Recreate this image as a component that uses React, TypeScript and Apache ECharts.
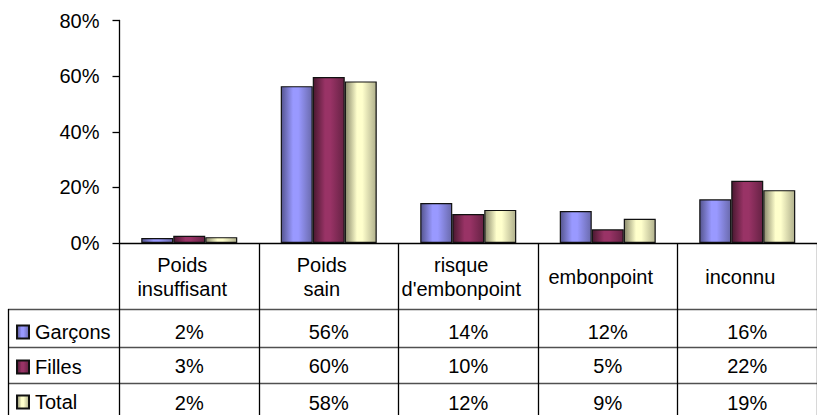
import React, { useEffect, useRef } from "react";
import * as echarts from "echarts";

const categories = ["Poids\ninsuffisant", "Poids\nsain", "risque\nd'embonpoint", "embonpoint", "inconnu"];
const seriesNames = ["Garçons", "Filles", "Total"];
const garcons = [1.8, 56.4, 14.4, 11.5, 15.7];
const filles = [2.6, 59.7, 10.4, 4.9, 22.4];
const total = [2.1, 58.1, 11.9, 8.7, 19.0];
const yTicks = [0, 20, 40, 60, 80];

const FONT = "'Liberation Sans', Arial, sans-serif";

function grad(edgeL: string, base: string, edgeR: string) {
  return {
    type: "linear",
    x: 0,
    y: 0,
    x2: 1,
    y2: 0,
    colorStops: [
      { offset: 0, color: edgeL },
      { offset: 0.38, color: base },
      { offset: 0.55, color: base },
      { offset: 1, color: edgeR },
    ],
  };
}

const fills = [
  grad("#55558f", "#9999ff", "#6a6aad"),
  grad("#4a1830", "#993366", "#662244"),
  grad("#8a8a6c", "#ffffcc", "#b0b08c"),
];

export default function App() {
  const ref = useRef<HTMLDivElement>(null);
  useEffect(() => {
    const chart = echarts.init(ref.current!, undefined, { renderer: "svg" });
    const all = [garcons, filles, total];
    const rowOffsets = [88.5, 123, 160];
    const fmt = (v: number) => Math.round(v) + "%";
    const tableAxes = all.map((vals, i) => ({
      type: "category",
      gridIndex: 0,
      position: "bottom",
      offset: rowOffsets[i],
      data: vals.map(fmt),
      axisLine: { show: false },
      axisTick: { show: false },
      axisLabel: {
        interval: 0,
        margin: 0,
        verticalAlign: "middle",
        fontSize: 20,
        fontFamily: FONT,
        color: "#000",
      },
    }));
    const lineStyle = { stroke: "#505050", lineWidth: 1.3 };
    chart.setOption({
      animation: false,
      textStyle: { fontFamily: FONT },
      grid: { left: 119.5, top: 20.5, bottom: 172, width: 708, containLabel: false },
      legend: {
        orient: "vertical",
        left: 16,
        top: 321,
        padding: 0,
        itemWidth: 12,
        itemHeight: 13,
        itemGap: 13,
        icon: "rect",
        textStyle: { fontSize: 20, fontFamily: FONT, color: "#000", lineHeight: 22, padding: [0, 0, 0, 1] },
        data: seriesNames,
      },
      xAxis: [
        {
          type: "category",
          data: categories,
          axisLine: { lineStyle: { color: "#000", width: 1.3 } },
          axisTick: { show: true, length: 175, interval: 0, lineStyle: { color: "#000", width: 1.3 } },
          axisLabel: {
            interval: 0,
            margin: 34,
            verticalAlign: "middle",
            fontSize: 20,
            lineHeight: 24,
            fontFamily: FONT,
            color: "#000",
            padding: [0, 14, 0, 0],
          },
        },
        ...tableAxes,
      ],
      yAxis: {
        type: "value",
        min: yTicks[0],
        max: yTicks[yTicks.length - 1],
        interval: 20,
        splitLine: { show: false },
        axisLine: { show: true, lineStyle: { color: "#000", width: 1.3 } },
        axisTick: { show: true, length: 7, lineStyle: { color: "#000", width: 1.3 } },
        axisLabel: {
          formatter: "{value}%",
          margin: 20,
          fontSize: 20,
          fontFamily: FONT,
          color: "#000",
        },
      },
      series: all.map((vals, i) => ({
        name: seriesNames[i],
        type: "bar",
        xAxisIndex: 0,
        data: vals,
        barWidth: 32,
        barGap: "0%",
        itemStyle: { color: fills[i], borderColor: "#111", borderWidth: 1.2 },
      })),
      graphic: [
        { type: "line", shape: { x1: 8, y1: 309.5, x2: 817, y2: 309.5 }, style: lineStyle },
        { type: "line", shape: { x1: 8, y1: 347.5, x2: 817, y2: 347.5 }, style: lineStyle },
        { type: "line", shape: { x1: 8, y1: 383.5, x2: 817, y2: 383.5 }, style: lineStyle },
        { type: "line", shape: { x1: 8.5, y1: 309, x2: 8.5, y2: 415 }, style: { stroke: "#000", lineWidth: 1.3 } },
      ],
    });
    return () => chart.dispose();
  }, []);
  return <div ref={ref} style={{ position: "absolute", left: 0, top: 0, width: 817, height: 415 }} />;
}
